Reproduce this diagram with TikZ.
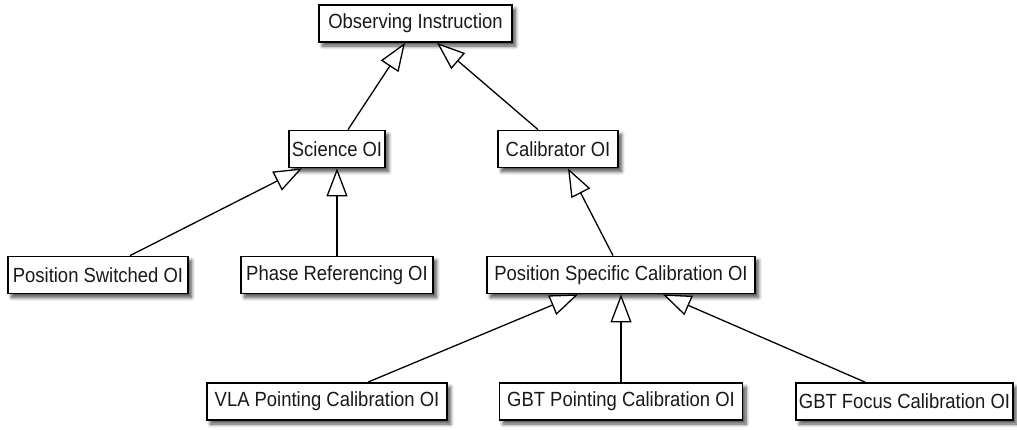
\documentclass[tikz,border=0pt]{standalone}
\usepackage{fontspec}
\setmainfont{Liberation Sans}[FakeStretch=0.9]
\usetikzlibrary{arrows.meta,shadows.blur}
\begin{document}
\begin{tikzpicture}[x=1pt,y=-1pt,
  cls/.style={draw=black, line width=1.8pt, fill=white, inner xsep=2pt,
    minimum height=37pt, text=black!90,
    font=\fontsize{20.5pt}{24pt}\selectfont,
    blur shadow={shadow xshift=3.5pt, shadow yshift=-4pt, shadow blur radius=3.5pt,
      shadow blur steps=8, shadow opacity=70}},
  gen/.style={line width=1.3pt, line join=miter,
    -{Triangle[length=28pt, width=21pt, fill=white]}}]
\useasboundingbox (0,0) rectangle (1017,429);

% class boxes
\node[cls, minimum width=193pt] (oi)    at (415.5,23.5) {Observing Instruction};
\node[cls, minimum width=96pt]  (sci)   at (337,149)    {Science OI};
\node[cls, minimum width=120pt] (cal)   at (558,149)    {Calibrator OI};
\node[cls, minimum width=180pt] (ps)    at (98,275)     {Position Switched OI};
\node[cls, minimum width=192pt] (phase) at (337,275)    {Phase Referencing OI};
\node[cls, minimum width=268pt] (psc)   at (621,275)    {Position Specific Calibration OI};
\node[cls, minimum width=240pt] (vla)   at (327,401.5)  {VLA Pointing Calibration OI};
\node[cls, minimum width=243pt] (gbtp)  at (621,401.5)  {GBT Pointing Calibration OI};
\node[cls, minimum width=217pt] (gbtf)  at (904.5,401.5){GBT Focus Calibration OI};

% generalization links (child -> parent)
\draw[gen] ([xshift=11pt]sci.north)   -- ([xshift=-10.5pt]oi.south);
\draw[gen] ([xshift=-20pt]cal.north)  -- ([xshift=21.5pt]oi.south);
\draw[gen] ([xshift=32pt]ps.north)    -- ([xshift=-35pt]sci.south);
\draw[gen] (phase.north)              -- (sci.south);
\draw[gen] ([xshift=-8pt]psc.north)   -- ([xshift=10pt]cal.south);
\draw[gen] ([xshift=41pt]vla.north)   -- ([xshift=-43pt]psc.south);
\draw[gen] (gbtp.north)               -- (psc.south);
\draw[gen] ([xshift=-39.5pt]gbtf.north) -- ([xshift=42pt]psc.south);
\end{tikzpicture}
\end{document}
